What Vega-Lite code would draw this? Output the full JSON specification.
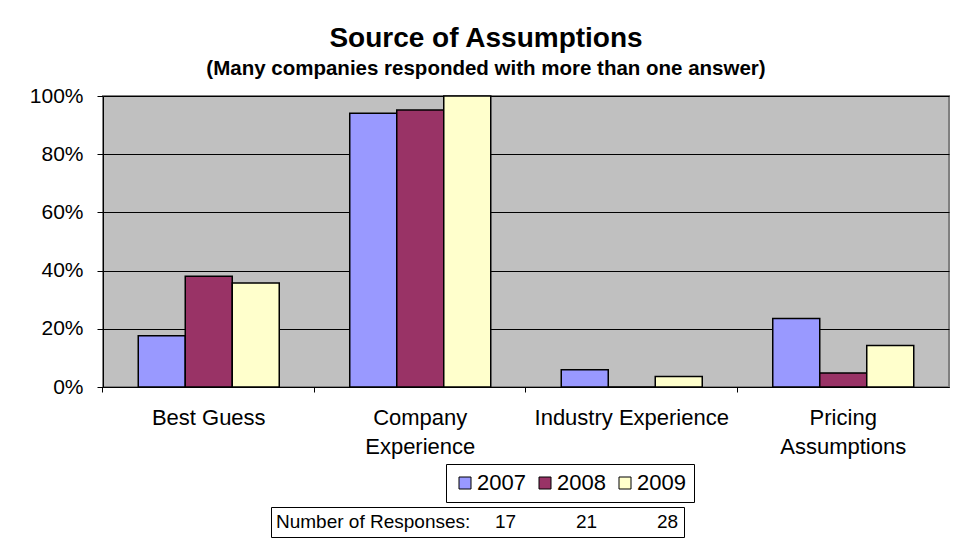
{
  "$schema": "https://vega.github.io/schema/vega-lite/v6.json",
  "autosize": {"type": "none"},
  "width": 846,
  "height": 291,
  "padding": {"left": 103, "top": 96, "right": 18, "bottom": 155},
  "background": "white",
  "view": {"fill": "#C0C0C0", "stroke": "#808080", "strokeWidth": 2},
  "config": {
    "font": "Liberation Sans",
    "view": {"fill": "#C0C0C0", "stroke": "#808080", "strokeWidth": 2}
  },
  "title": {
    "text": "Source of Assumptions",
    "subtitle": "(Many companies responded with more than one answer)",
    "anchor": "middle",
    "frame": "group",
    "dx": -40,
    "font": "Liberation Sans",
    "fontSize": 28,
    "fontWeight": "bold",
    "color": "black",
    "subtitleFont": "Liberation Sans",
    "subtitleFontSize": 20.5,
    "subtitleFontWeight": "bold",
    "subtitleColor": "black",
    "subtitlePadding": 6,
    "offset": 6
  },
  "datasets": {
    "bars": [
      {"category": "Best Guess", "year": "2007", "share": 0.176},
      {"category": "Best Guess", "year": "2008", "share": 0.381},
      {"category": "Best Guess", "year": "2009", "share": 0.357},
      {"category": "Company Experience", "year": "2007", "share": 0.941},
      {"category": "Company Experience", "year": "2008", "share": 0.952},
      {"category": "Company Experience", "year": "2009", "share": 1.0},
      {"category": "Industry Experience", "year": "2007", "share": 0.059},
      {"category": "Industry Experience", "year": "2008", "share": 0.0},
      {"category": "Industry Experience", "year": "2009", "share": 0.036},
      {"category": "Pricing Assumptions", "year": "2007", "share": 0.235},
      {"category": "Pricing Assumptions", "year": "2008", "share": 0.048},
      {"category": "Pricing Assumptions", "year": "2009", "share": 0.143}
    ],
    "responses": [
      {"year": "2007", "n": "17"},
      {"year": "2008", "n": "21"},
      {"year": "2009", "n": "28"}
    ]
  },
  "layer": [
    {
      "data": {"name": "bars"},
      "mark": {"type": "bar", "stroke": "black", "strokeWidth": 1.5},
      "encoding": {
        "x": {
          "field": "category",
          "type": "nominal",
          "sort": null,
          "scale": {"paddingInner": 0.33333, "paddingOuter": 0.166667},
          "axis": {
            "title": null,
            "labelAngle": 0,
            "labelFontSize": 22,
            "labelColor": "black",
            "labelPadding": 15,
            "labelLineHeight": 29,
            "labelBaseline": "top",
            "labelExpr": "datum.value == 'Company Experience' ? ['Company', 'Experience'] : datum.value == 'Pricing Assumptions' ? ['Pricing', 'Assumptions'] : datum.value",
            "bandPosition": -0.25,
            "domainColor": "black",
            "tickColor": "black",
            "tickSize": 5,
            "labelLimit": 300
          }
        },
        "xOffset": {"field": "year", "type": "nominal", "scale": {"paddingInner": 0, "paddingOuter": 0}},
        "y": {
          "field": "share",
          "type": "quantitative",
          "scale": {"domain": [0, 1], "nice": false},
          "axis": {
            "title": null,
            "values": [0, 0.2, 0.4, 0.6, 0.8, 1.0],
            "format": ".0%",
            "labelFontSize": 21,
            "labelColor": "black",
            "labelPadding": 14,
            "domainColor": "black",
            "tickColor": "black",
            "tickSize": 6,
            "gridColor": "black",
            "gridOpacity": 1,
            "gridWidth": 1
          }
        },
        "color": {
          "field": "year",
          "type": "nominal",
          "scale": {"domain": ["2007", "2008", "2009"], "range": ["#9999FF", "#993366", "#FFFFCC"]},
          "legend": {
            "title": null,
            "orient": "none",
            "direction": "horizontal",
            "legendX": 343,
            "legendY": 368,
            "symbolType": "square",
            "symbolSize": 144,
            "symbolStrokeColor": "black",
            "symbolStrokeWidth": 1,
            "symbolOpacity": 1,
            "labelFontSize": 22,
            "labelColor": "black",
            "labelOffset": 1,
            "columnPadding": 8,
            "padding": 8,
            "strokeColor": "black",
            "fillColor": "white"
          }
        }
      }
    },
    {
      "data": {"name": "responses"},
      "mark": {"type": "point", "opacity": 0},
      "encoding": {
        "shape": {
          "field": "n",
          "type": "nominal",
          "legend": {
            "title": "Number of Responses:",
            "titleOrient": "left",
            "titleFontSize": 19,
            "titleFontWeight": "normal",
            "titleColor": "black",
            "titlePadding": 5,
            "titleLimit": 400,
            "titleBaseline": "middle",
            "orient": "none",
            "direction": "horizontal",
            "legendX": 168,
            "legendY": 411,
            "symbolSize": 1,
            "symbolOpacity": 0,
            "symbolStrokeWidth": 0,
            "labelFontSize": 19,
            "labelColor": "black",
            "labelOffset": 0,
            "columnPadding": 40,
            "padding": 5,
            "strokeColor": "black",
            "fillColor": "white"
          }
        }
      }
    }
  ]
}
